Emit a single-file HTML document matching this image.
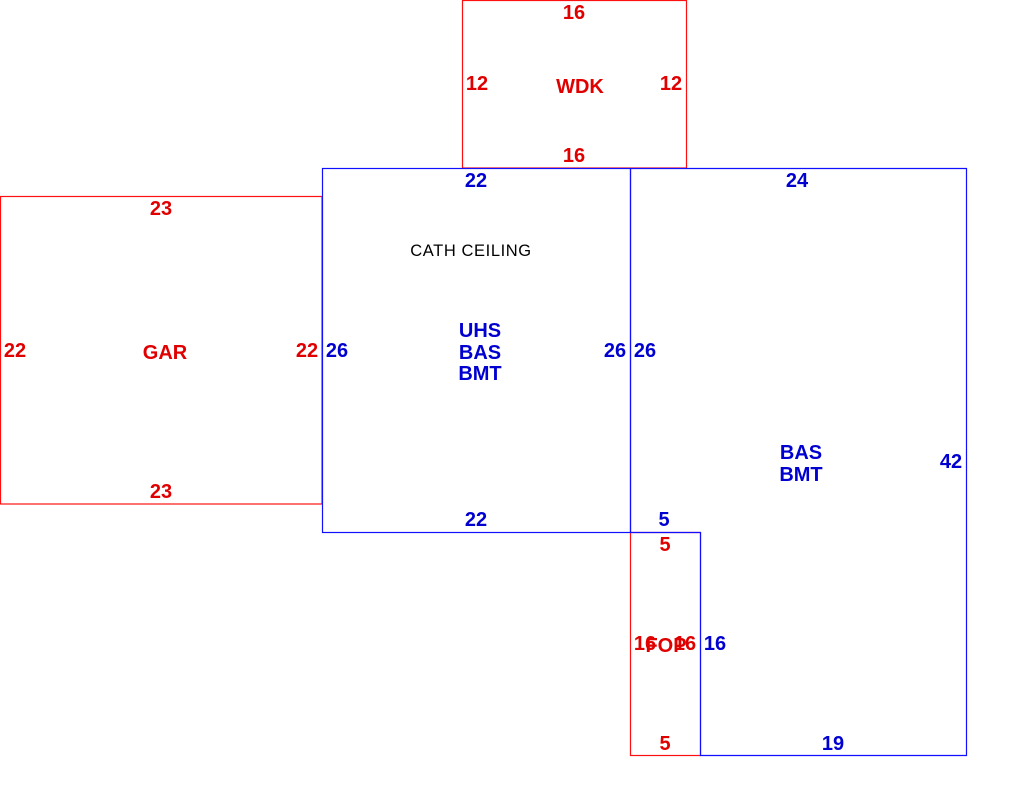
<!DOCTYPE html>
<html>
<head>
<meta charset="utf-8">
<style>
html,body{margin:0;padding:0;background:#fff;width:1010px;height:810px;overflow:hidden;}
svg{display:block;}
.r{fill:#e00000;}
.b{fill:#0000d0;}
text{font-family:"Liberation Sans",Arial,sans-serif;font-weight:bold;font-size:20px;text-anchor:middle;dominant-baseline:central;}
.k{fill:#000;font-weight:normal;font-size:16.5px;letter-spacing:0.6px;}
</style>
</head>
<body>
<svg width="1010" height="810" viewBox="0 0 1010 810" xmlns="http://www.w3.org/2000/svg">
<g fill="none" stroke-width="1.2">
  <!-- WDK -->
  <rect x="462.5" y="0.5" width="224" height="167.5" stroke="#ff1010"/>
  <!-- GAR -->
  <rect x="0.5" y="196.5" width="321.5" height="307.5" stroke="#ff1010"/>
  <!-- FOP -->
  <rect x="630.5" y="532.5" width="70" height="223" stroke="#ff1010"/>
  <!-- UHS -->
  <rect x="322.5" y="168.5" width="308" height="364" stroke="#1010ff"/>
  <!-- BAS -->
  <polyline points="630.5,168.5 966.5,168.5 966.5,755.5 700.5,755.5 700.5,532.5 630.5,532.5 630.5,168.5" stroke="#1010ff"/>
</g>

<!-- WDK labels -->
<text class="r" x="574" y="13">16</text>
<text class="r" x="477" y="84">12</text>
<text class="r" x="580" y="87">WDK</text>
<text class="r" x="671" y="84">12</text>
<text class="r" x="574" y="156">16</text>

<!-- GAR labels -->
<text class="r" x="161" y="209">23</text>
<text class="r" x="15" y="351">22</text>
<text class="r" x="165" y="353">GAR</text>
<text class="r" x="307" y="351">22</text>
<text class="r" x="161" y="492">23</text>

<!-- UHS labels -->
<text class="b" x="476" y="181">22</text>
<text class="k" x="471" y="251">CATH CEILING</text>
<text class="b" x="337" y="351">26</text>
<text class="b" x="480" y="331">UHS</text>
<text class="b" x="480" y="353">BAS</text>
<text class="b" x="480" y="374">BMT</text>
<text class="b" x="615" y="351">26</text>
<text class="b" x="476" y="520">22</text>

<!-- BAS labels -->
<text class="b" x="797" y="181">24</text>
<text class="b" x="645" y="351">26</text>
<text class="b" x="801" y="453">BAS</text>
<text class="b" x="801" y="475">BMT</text>
<text class="b" x="951" y="462">42</text>
<text class="b" x="664" y="520">5</text>
<text class="b" x="715" y="644">16</text>
<text class="b" x="833" y="744">19</text>

<!-- FOP labels -->
<text class="r" x="665" y="545">5</text>
<text class="r" x="645" y="644">16</text>
<text class="r" x="666" y="646">FOP</text>
<text class="r" x="685" y="644">16</text>
<text class="r" x="665" y="744">5</text>
</svg>
</body>
</html>
